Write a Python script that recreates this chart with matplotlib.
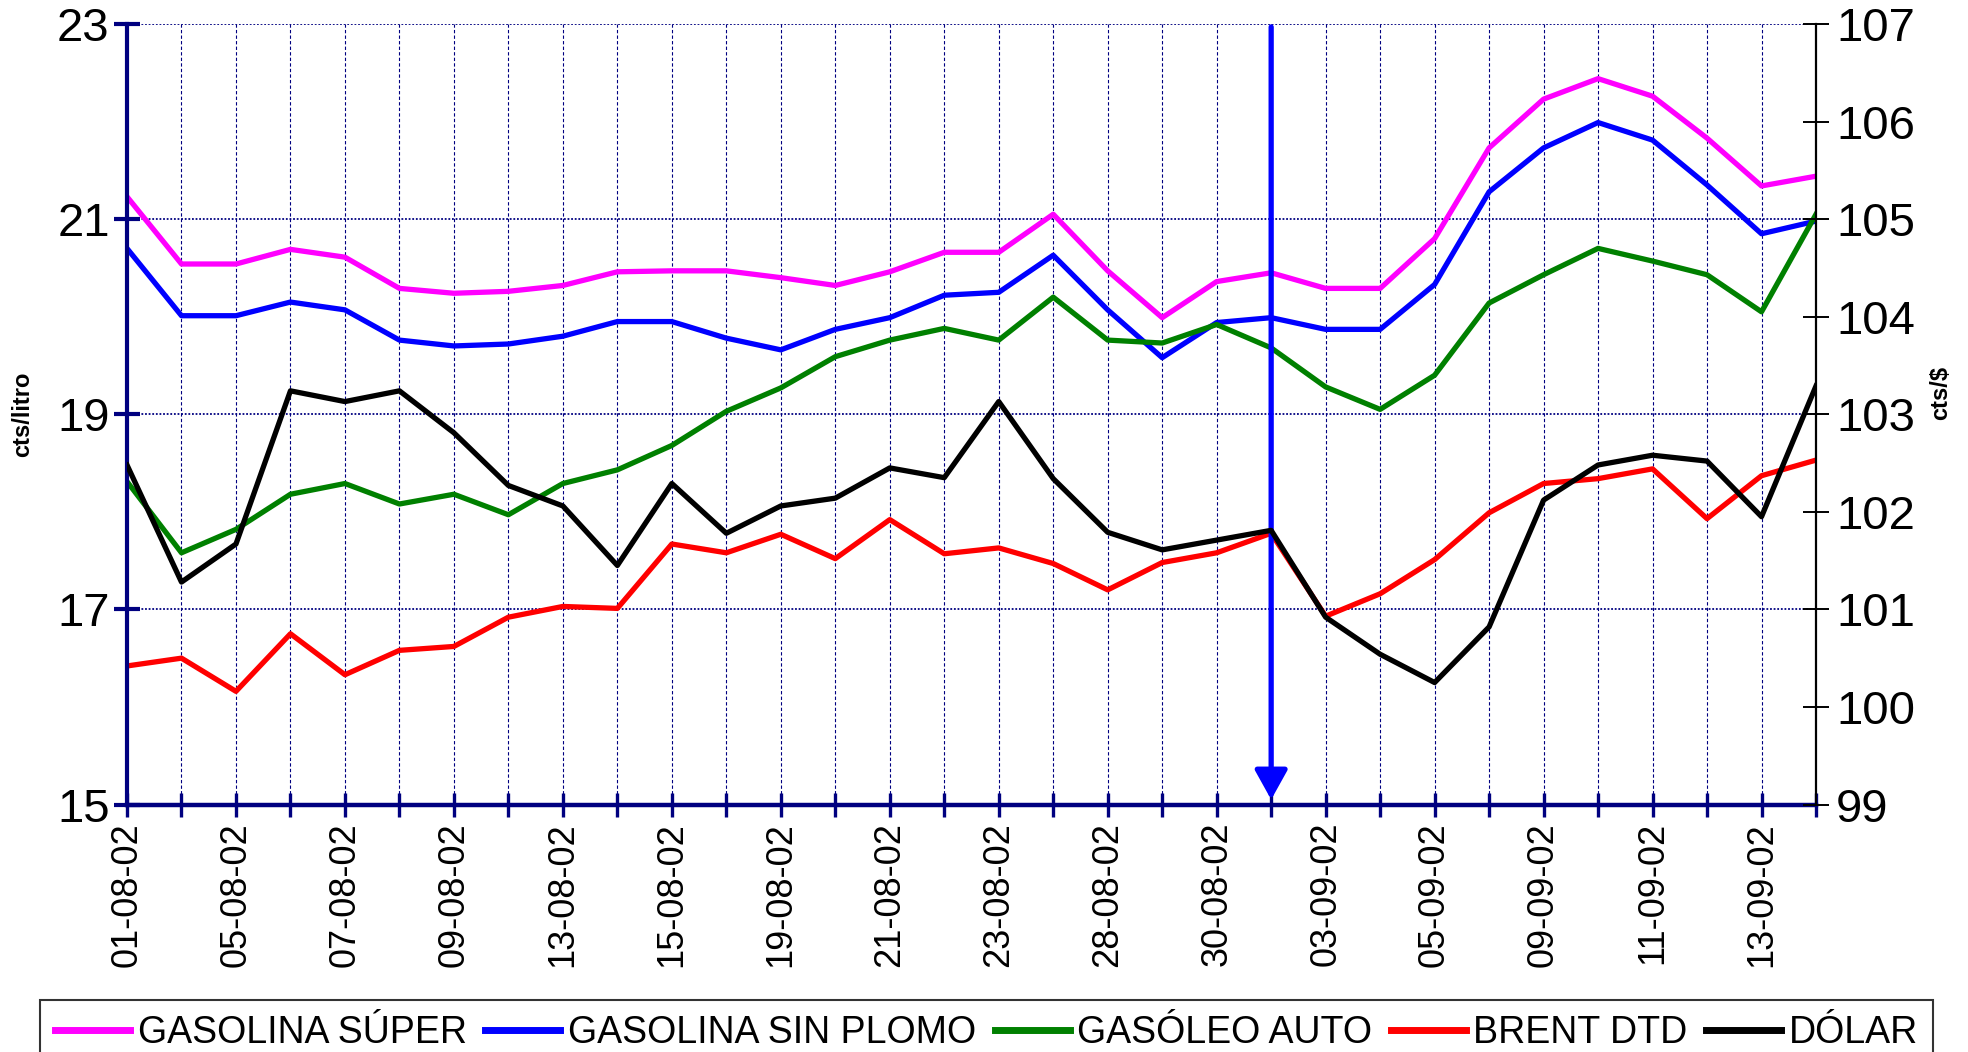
import matplotlib
matplotlib.use('Agg')
from matplotlib import pyplot as plt

plt.rcParams['font.family'] = ['Liberation Sans', 'DejaVu Sans']

# dates of the quotes (business days)
fechas = ['01-08-02', '02-08-02', '05-08-02', '06-08-02', '07-08-02', '08-08-02',
          '09-08-02', '12-08-02', '13-08-02', '14-08-02', '15-08-02', '16-08-02',
          '19-08-02', '20-08-02', '21-08-02', '22-08-02', '23-08-02', '27-08-02',
          '28-08-02', '29-08-02', '30-08-02', '02-09-02', '03-09-02', '04-09-02',
          '05-09-02', '06-09-02', '09-09-02', '10-09-02', '11-09-02', '12-09-02',
          '13-09-02', '16-09-02']

# left axis series (cts/litro)
super_ = [21.23, 20.54, 20.54, 20.69, 20.61, 20.29, 20.24, 20.26, 20.32, 20.46,
          20.47, 20.47, 20.40, 20.32, 20.46, 20.66, 20.66, 21.05, 20.47, 19.99,
          20.36, 20.45, 20.29, 20.29, 20.80, 21.73, 22.23, 22.44, 22.26, 21.83,
          21.34, 21.44]
sin_plomo = [20.70, 20.01, 20.01, 20.15, 20.07, 19.76, 19.70, 19.72, 19.80, 19.95,
             19.95, 19.78, 19.66, 19.87, 19.99, 20.22, 20.25, 20.63, 20.07, 19.58,
             19.94, 19.99, 19.87, 19.87, 20.33, 21.28, 21.73, 21.99, 21.81, 21.35,
             20.85, 20.98]
gasoleo = [18.31, 17.58, 17.82, 18.18, 18.29, 18.08, 18.18, 17.97, 18.29, 18.43,
           18.68, 19.03, 19.27, 19.59, 19.76, 19.88, 19.76, 20.20, 19.76, 19.73,
           19.92, 19.68, 19.28, 19.05, 19.40, 20.14, 20.43, 20.70, 20.57, 20.43,
           20.05, 21.05]
brent = [16.42, 16.50, 16.16, 16.75, 16.33, 16.58, 16.62, 16.92, 17.03, 17.01,
         17.67, 17.58, 17.77, 17.52, 17.92, 17.57, 17.63, 17.47, 17.20, 17.48,
         17.58, 17.78, 16.93, 17.16, 17.51, 17.99, 18.29, 18.34, 18.44, 17.93,
         18.37, 18.53]

# right axis series (cts/$)
dolar = [102.48, 101.28, 101.67, 103.24, 103.13, 103.24, 102.81, 102.27, 102.06, 101.45,
         102.29, 101.78, 102.06, 102.14, 102.45, 102.35, 103.13, 102.34, 101.79, 101.61,
         101.71, 101.81, 100.92, 100.54, 100.25, 100.82, 102.12, 102.48, 102.58, 102.52,
         101.95, 103.29]

marca = 21  # index where the arrow is drawn

navy = '#000080'
x = list(range(len(fechas)))

fig = plt.figure(figsize=(19.68, 10.52), dpi=100)
ax = fig.add_axes([127 / 1968, 1 - 804.5 / 1052, (1816 - 127) / 1968, (804.5 - 24) / 1052])
ax2 = ax.twinx()

lw = 3.8
l1, = ax.plot(x, super_, color='#FF00FF', lw=lw, label='GASOLINA SÚPER')
l2, = ax.plot(x, sin_plomo, color='#0000FF', lw=lw, label='GASOLINA SIN PLOMO')
l3, = ax.plot(x, gasoleo, color='#008000', lw=lw, label='GASÓLEO AUTO')
l4, = ax.plot(x, brent, color='#FF0000', lw=lw, label='BRENT DTD')
l5, = ax2.plot(x, dolar, color='black', lw=lw, label='DÓLAR')

ax.set_xlim(0, len(fechas) - 1)
ax.set_ylim(15, 23)
ax2.set_ylim(99, 107)
ax.set_yticks([15, 17, 19, 21, 23])
ax2.set_yticks(range(99, 108))

ax.set_xticks(x)
ax.set_xticklabels([f if i % 2 == 0 else '' for i, f in enumerate(fechas)],
                   rotation=90, fontsize=26)

# grid
ax.grid(axis='y', color=navy, linestyle=(0, (1, 1)), lw=1.3)
ax.grid(axis='x', color=navy, linestyle=(0, (3, 2)), lw=0.8)
ax.set_axisbelow(True)

# spines
ax.spines['top'].set_visible(False)
ax2.spines['top'].set_visible(False)
ax.spines['left'].set_color(navy)
ax.spines['left'].set_linewidth(3)
ax.spines['bottom'].set_color(navy)
ax.spines['bottom'].set_linewidth(3.2)
ax2.spines['left'].set_visible(False)
ax2.spines['bottom'].set_visible(False)
ax2.spines['right'].set_color('black')
ax2.spines['right'].set_linewidth(1.6)
ax.spines['right'].set_visible(False)

ax.tick_params(axis='y', direction='inout', length=19, width=3, color=navy,
               labelsize=34, pad=3)
ax.tick_params(axis='x', direction='inout', length=17, width=2.4, color=navy, pad=4)
ax2.tick_params(axis='y', direction='inout', length=19, width=1.4, color='black',
                labelsize=34, pad=5)

ax.set_ylabel('cts/litro', fontsize=17, fontweight='bold')
ax.yaxis.set_label_coords(-0.055, 0.5)
ax2.set_ylabel('cts/$', fontsize=17, fontweight='bold', rotation=90)
ax2.yaxis.set_label_coords(1.067, 0.527)

# blue arrow marking the date
ax.annotate('', xy=(marca, 15.05), xytext=(marca, 22.97),
            arrowprops=dict(arrowstyle='-|>,head_width=0.5,head_length=0.9',
                            color='#0000FF', lw=3.8, mutation_scale=20,
                            shrinkA=0, shrinkB=0), zorder=5)

leg = fig.legend(handles=[l1, l2, l3, l4, l5], loc='upper left',
                 bbox_to_anchor=(40 / 1968, 1 - 1000 / 1052), ncol=5,
                 fontsize=27, frameon=True, fancybox=False, edgecolor='black',
                 handlelength=2.0, handletextpad=0.2, columnspacing=0.5,
                 borderpad=0.4, borderaxespad=0)
leg.get_frame().set_linewidth(1.5)
for h in leg.get_lines():
    h.set_linewidth(5)

plt.savefig('out.png', dpi=100)
